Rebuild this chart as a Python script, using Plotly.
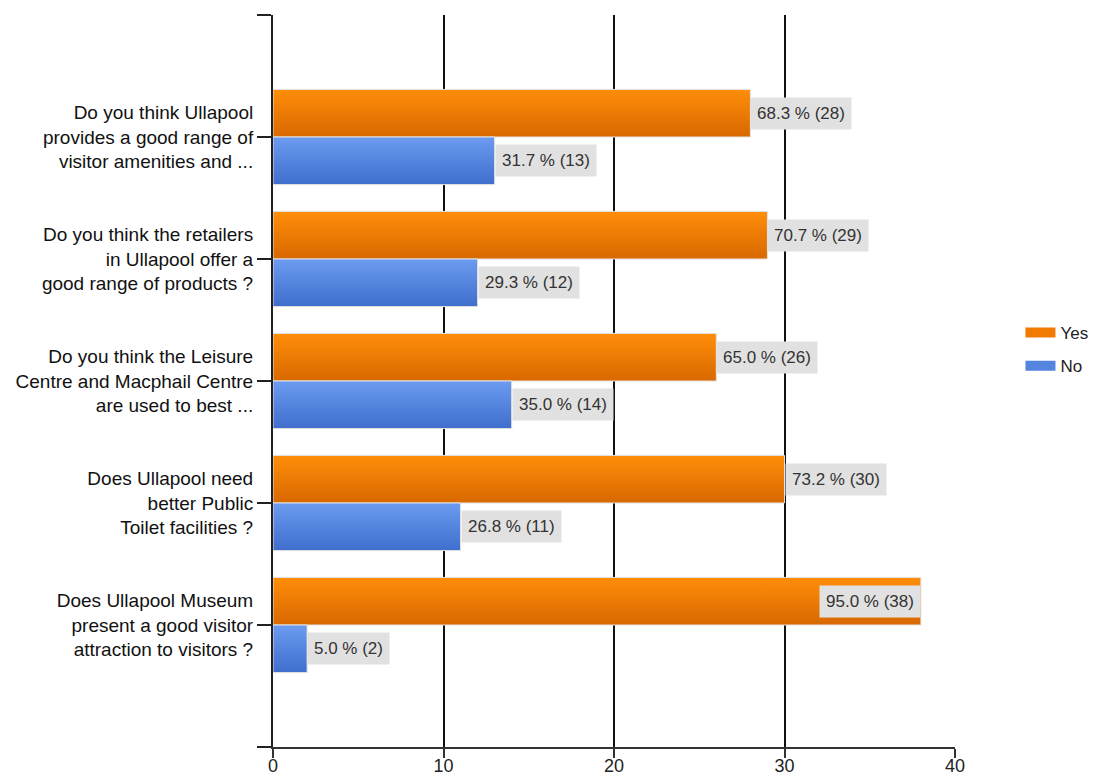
import plotly.graph_objects as go

# Survey questions (one per row, top to bottom)
questions = [
    "Do you think Ullapool<br>provides a good range of<br>visitor amenities and ...",
    "Do you think the retailers<br>in Ullapool offer a<br>good range of products ?",
    "Do you think the Leisure<br>Centre and Macphail Centre<br>are used to best ...",
    "Does Ullapool need<br>better Public<br>Toilet facilities ?",
    "Does Ullapool Museum<br>present a good visitor<br>attraction to visitors ?",
]

yes_counts = [28, 29, 26, 30, 38]
yes_pct = [68.3, 70.7, 65.0, 73.2, 95.0]
no_counts = [13, 12, 14, 11, 2]
no_pct = [31.7, 29.3, 35.0, 26.8, 5.0]

x_ticks = [0, 10, 20, 30, 40]

FONT = "Liberation Sans, Arial, sans-serif"
BAR_H = 0.39  # bar thickness in category units

series = [
    ("Yes", yes_counts, yes_pct, -1, ["#ff8e0a", "#d86800"], "#f07b00"),
    ("No", no_counts, no_pct, 0, ["#6c9bf0", "#3f6ecd"], "#5584e0"),
]

fig = go.Figure()
annotations = []

for name, counts, pcts, side, (c_top, c_bot), c_mid in series:
    for i, (n, p) in enumerate(zip(counts, pcts)):
        y0 = i + side * BAR_H          # top edge (axis is reversed)
        y1 = y0 + BAR_H                # bottom edge
        fig.add_trace(go.Scatter(
            x=[0, n, n, 0, 0],
            y=[y0, y0, y1, y1, y0],
            mode="lines",
            fill="toself",
            fillgradient=dict(type="vertical", start=y0, stop=y1,
                              colorscale=[[0, c_top], [1, c_bot]]),
            line=dict(color="#e2e2e2", width=1),
            name=name,
            legendgroup=name,
            showlegend=False,
            hoverinfo="skip",
        ))
        inside = n > 34
        annotations.append(dict(
            x=n, y=(y0 + y1) / 2, xref="x", yref="y",
            text=f"{p:.1f} % ({n})",
            showarrow=False,
            xanchor="right" if inside else "left",
            yanchor="middle",
            bgcolor="#e1e1e1",
            borderpad=6,
            font=dict(family=FONT, size=17, color="#333333"),
        ))
    # legend swatch for the series
    fig.add_trace(go.Scatter(
        x=[None], y=[None], mode="lines",
        line=dict(color=c_mid, width=11),
        name=name, legendgroup=name, showlegend=True,
    ))

fig.update_layout(
    width=1102, height=777,
    margin=dict(l=273, r=147, t=15, b=30, autoexpand=False),
    paper_bgcolor="white",
    plot_bgcolor="white",
    font=dict(family=FONT, color="#111111"),
    annotations=annotations,
    legend=dict(
        x=1.096, y=0.543, xanchor="left", yanchor="middle",
        font=dict(family=FONT, size=17, color="#222222"),
        tracegroupgap=8,
    ),
    xaxis=dict(
        range=[0, 40], tickvals=x_ticks,
        showgrid=True, gridcolor="#111111", gridwidth=1.5,
        zeroline=False,
        showline=True, linecolor="#333333", linewidth=2,
        ticks="", ticklabelstandoff=1,
        minor=dict(tickvals=x_ticks, ticks="outside", ticklen=9,
                   tickcolor="#333333", tickwidth=2, showgrid=False),
        tickfont=dict(family=FONT, size=18, color="#222222"),
    ),
    yaxis=dict(
        range=[5, -1],
        tickvals=[-1, 0, 1, 2, 3, 4, 5],
        ticktext=[""] + questions + [""],
        showgrid=False, zeroline=False,
        showline=True, linecolor="#222222", linewidth=2,
        ticks="outside", ticklen=14, tickcolor="#222222", tickwidth=2,
        tickfont=dict(family=FONT, size=19, color="#111111"),
    ),
)

fig.write_html("out.html")
